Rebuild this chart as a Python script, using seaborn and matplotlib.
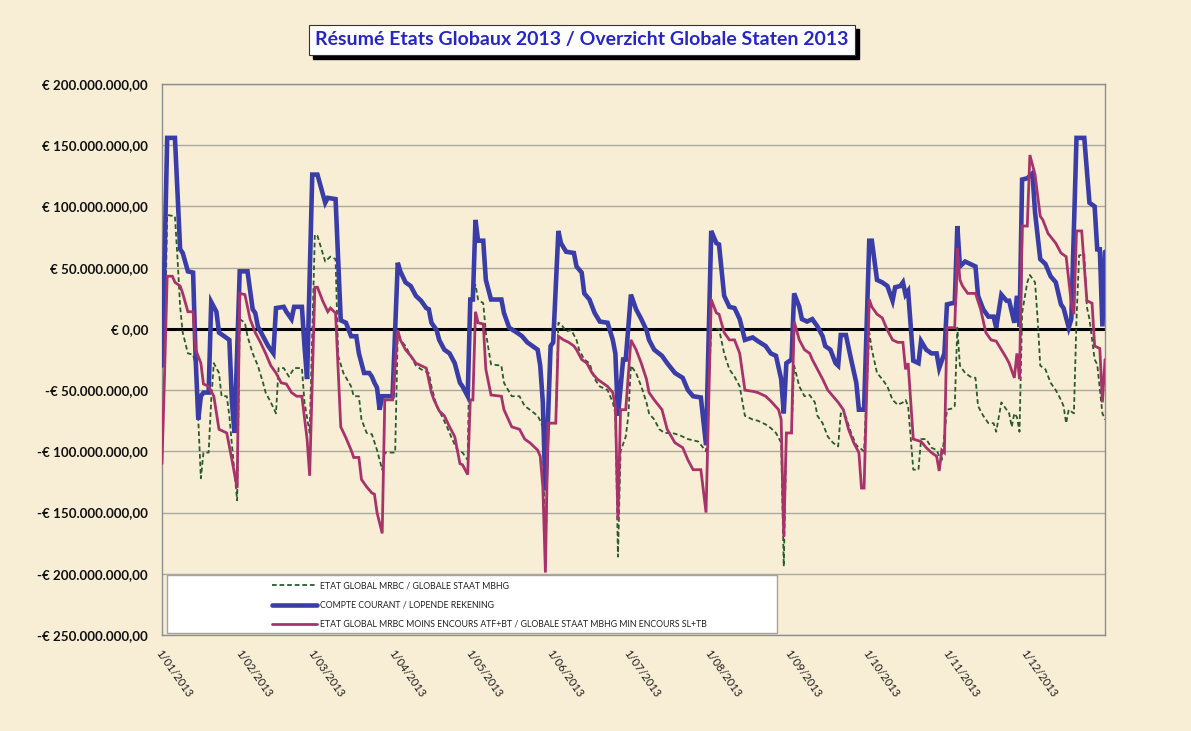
import matplotlib
matplotlib.use("Agg")
import matplotlib.pyplot as plt
from matplotlib.ticker import FuncFormatter
from matplotlib.patches import Rectangle
from matplotlib.transforms import IdentityTransform
import pandas as pd
import seaborn as sns

YEAR_START = "2013-01-01"

# (day of year, 0 = 1 January ; balance in millions of euro)
etat_global = [
    (0, -30), (1, -20), (2, 93), (5, 92), (6, 57), (7, 18), (8, -3), (10, -20), (12, -21), (13, -30),
    (14, -74), (15, -122), (16, -101), (18, -101), (19, -58), (20, -28), (22, -36), (23, -55), (25, -55), (26, -71),
    (27, -95), (29, -140), (30, 8), (32, 5), (33, -6), (35, -20), (37, -30), (39, -44), (40, -52), (42, -60),
    (44, -69), (45, -32), (47, -32), (49, -39), (51, -32), (54, -32), (55, -60), (57, -85), (59, 77), (60, 76),
    (62, 62), (63, 55), (65, 59), (67, 57), (68, -22), (70, -36), (73, -47), (74, -55), (76, -55), (77, -74),
    (79, -85), (81, -86), (83, -99), (85, -115), (86, -101), (90, -101), (91, -3), (92, -9), (94, -14), (96, -22),
    (98, -30), (100, -33), (103, -36), (104, -47), (106, -63), (108, -71), (110, -80), (112, -90), (114, -99), (116, -101),
    (118, -107), (119, 24), (121, 36), (122, 24), (124, 21), (125, -3), (127, -29), (131, -30), (132, -44), (135, -55),
    (138, -55), (140, -63), (142, -66), (145, -71), (146, -75), (147, -80), (148, -195), (149, -77), (152, -77), (153, 5),
    (154, 4), (156, -2), (158, -1), (160, -9), (161, -17), (163, -25), (165, -28), (167, -41), (169, -47), (172, -50),
    (174, -60), (175, -69), (176, -186), (177, -100), (179, -88), (180, -71), (181, -30), (183, -36), (185, -47), (187, -60),
    (188, -69), (190, -74), (192, -82), (194, -85), (197, -85), (200, -87), (203, -90), (207, -92), (210, -100), (212, 0),
    (215, 0), (217, -20), (219, -33), (221, -39), (223, -47), (225, -71), (228, -74), (230, -75), (233, -78), (235, -81),
    (237, -85), (239, -93), (240, -194), (241, -85), (243, -85), (244, -30), (246, -47), (248, -55), (250, -54), (252, -60),
    (253, -71), (255, -77), (257, -88), (259, -93), (261, -96), (262, -69), (264, -72), (266, -85), (268, -95), (271, -100),
    (273, -3), (274, -17), (276, -36), (278, -41), (280, -47), (282, -58), (284, -62), (286, -60), (287, -58), (288, -63),
    (290, -115), (292, -115), (293, -90), (295, -90), (297, -97), (299, -99), (300, -104), (301, -107), (303, -66), (305, -65),
    (306, -63), (307, 1), (308, -30), (310, -36), (312, -39), (314, -40), (315, -63), (317, -71), (319, -77), (321, -77),
    (322, -84), (324, -60), (326, -66), (327, -69), (328, -80), (329, -69), (330, -72), (331, -84), (332, 13), (334, 38),
    (335, 44), (337, 38), (338, 8), (339, -30), (341, -33), (343, -44), (345, -50), (347, -58), (348, -63), (349, -77),
    (350, -66), (352, -69), (353, 8), (354, 60), (356, 61), (357, 18), (358, 8), (360, -25), (361, -29), (363, -69),
    (364, -74),
]

compte_courant = [
    (0, -30), (1, 57), (2, 156), (5, 156), (7, 65), (8, 62), (10, 47), (12, 46), (13, -25), (14, -74),
    (15, -55), (16, -52), (18, -52), (19, 22), (21, 14), (22, -3), (24, -6), (26, -9), (27, -60), (28, -85),
    (30, 47), (33, 47), (35, 16), (36, 13), (37, 2), (39, -6), (41, -14), (43, -20), (44, 17), (47, 18),
    (48, 14), (50, 8), (51, 18), (54, 18), (55, -14), (56, -41), (58, 126), (60, 126), (63, 103), (64, 107),
    (67, 106), (69, 7), (71, 5), (73, -6), (75, -6), (76, -20), (78, -36), (80, -36), (81, -39), (82, -44),
    (83, -48), (84, -66), (85, -55), (89, -55), (91, 54), (92, 47), (94, 38), (96, 35), (98, 27), (100, 23),
    (102, 17), (103, 16), (104, 5), (106, -1), (107, -9), (109, -17), (111, -20), (113, -28), (115, -44), (116, -47),
    (118, -55), (119, 24), (120, 24), (121, 89), (122, 72), (124, 72), (125, 40), (127, 24), (131, 24), (132, 13),
    (134, 1), (137, -3), (139, -6), (141, -11), (143, -14), (145, -17), (146, -30), (147, -60), (148, -132), (150, -14),
    (151, -11), (153, 80), (154, 70), (156, 63), (159, 62), (160, 51), (162, 46), (163, 29), (165, 24), (167, 13),
    (169, 6), (172, 5), (174, -9), (175, -20), (176, -71), (178, -25), (179, -25), (181, 28), (183, 16), (185, 8),
    (187, -1), (188, -9), (190, -17), (193, -22), (195, -28), (198, -36), (201, -40), (203, -50), (205, -55), (208, -56),
    (210, -95), (212, 80), (214, 70), (215, 69), (217, 27), (219, 18), (221, 17), (223, 8), (225, -9), (228, -7),
    (230, -10), (233, -14), (235, -20), (237, -22), (239, -41), (240, -69), (241, -28), (243, -25), (244, 29), (246, 18),
    (247, 8), (249, 6), (251, 8), (253, 2), (255, -6), (256, -14), (258, -17), (260, -28), (261, -30), (262, -5),
    (264, -5), (266, -25), (268, -44), (269, -66), (271, -66), (273, 72), (274, 72), (276, 40), (278, 38), (280, 35),
    (282, 23), (283, 34), (285, 35), (286, 38), (287, 28), (288, 31), (290, -26), (292, -28), (293, -10), (295, -17),
    (297, -20), (299, -20), (300, -32), (302, -20), (303, 20), (305, 21), (306, 21), (307, 84), (308, 51), (310, 55),
    (312, 53), (314, 51), (315, 27), (317, 16), (319, 10), (321, 10), (322, 1), (324, 28), (326, 23), (327, 23),
    (329, 5), (330, 27), (331, 2), (332, 122), (334, 123), (336, 127), (337, 95), (339, 57), (341, 53), (343, 43),
    (345, 38), (347, 20), (348, 17), (350, 1), (351, 8), (352, 81), (353, 156), (356, 156), (358, 103), (360, 100),
    (361, 65), (362, 65), (363, 2), (364, 63),
]

etat_moins_encours = [
    (0, -110), (1, -36), (2, 43), (4, 43), (5, 38), (7, 35), (8, 29), (10, 14), (12, 14), (13, -17),
    (15, -28), (16, -45), (18, -47), (20, -55), (22, -82), (25, -85), (27, -107), (29, -130), (30, 29), (32, 28),
    (34, 8), (36, -3), (38, -11), (40, -20), (42, -30), (44, -36), (46, -44), (48, -45), (50, -52), (52, -55),
    (54, -55), (56, -90), (57, -120), (59, 34), (60, 34), (62, 23), (64, 14), (65, 17), (67, 13), (69, -80),
    (71, -89), (73, -99), (74, -105), (76, -105), (77, -123), (79, -129), (81, -134), (82, -135), (83, -150), (85, -167),
    (86, -58), (89, -58), (91, -1), (92, -9), (94, -17), (96, -22), (98, -28), (100, -30), (102, -32), (104, -52),
    (105, -58), (107, -67), (109, -71), (111, -80), (113, -88), (115, -110), (116, -111), (118, -119), (119, -58), (120, -58),
    (121, 14), (122, 5), (124, 4), (125, -33), (127, -54), (131, -55), (132, -66), (135, -80), (138, -82), (140, -90),
    (142, -93), (145, -99), (146, -104), (147, -129), (148, -199), (149, -77), (152, -77), (153, -6), (155, -9), (157, -11),
    (159, -14), (160, -17), (162, -25), (164, -28), (166, -36), (168, -41), (170, -44), (172, -47), (174, -52), (175, -63),
    (176, -156), (177, -66), (179, -66), (181, -9), (183, -17), (185, -28), (187, -41), (188, -52), (190, -58), (193, -66),
    (195, -82), (198, -93), (201, -97), (203, -107), (205, -115), (208, -115), (210, -150), (212, 24), (214, 13), (215, 12),
    (217, -3), (219, -9), (221, -9), (223, -20), (225, -50), (228, -51), (230, -52), (233, -55), (235, -59), (238, -66),
    (239, -74), (240, -170), (241, -85), (243, -85), (244, 6), (246, -9), (248, -17), (250, -20), (251, -25), (253, -33),
    (255, -41), (257, -50), (259, -55), (261, -60), (263, -66), (265, -82), (267, -93), (269, -101), (270, -130), (271, -130),
    (273, 24), (274, 18), (276, 12), (278, 9), (280, -1), (282, -9), (284, -11), (286, -11), (287, -33), (288, -28),
    (290, -90), (293, -92), (295, -97), (297, -101), (299, -104), (300, -116), (301, -99), (302, -101), (303, 1), (306, 1),
    (307, 66), (308, 40), (309, 35), (311, 29), (314, 29), (316, 16), (318, -3), (320, -9), (322, -10), (324, -17),
    (326, -24), (327, -28), (329, -40), (330, -20), (331, -41), (332, 84), (334, 84), (335, 142), (337, 126), (339, 92),
    (340, 89), (342, 78), (345, 70), (347, 62), (349, 59), (351, 21), (352, 12), (353, 80), (355, 80), (357, 23),
    (359, 21), (360, -14), (362, -16), (363, -60), (364, -25),
]

series_labels = [
    "ETAT GLOBAL MRBC / GLOBALE STAAT MBHG",
    "COMPTE COURANT / LOPENDE REKENING",
    "ETAT GLOBAL MRBC MOINS ENCOURS ATF+BT / GLOBALE STAAT MBHG MIN ENCOURS SL+TB",
]
month_starts = ["2013-01-01", "2013-02-01", "2013-03-01", "2013-04-01", "2013-05-01", "2013-06-01",
                "2013-07-01", "2013-08-01", "2013-09-01", "2013-10-01", "2013-11-01", "2013-12-01"]
month_labels = ["1/01/2013", "1/02/2013", "1/03/2013", "1/04/2013", "1/05/2013", "1/06/2013",
                "1/07/2013", "1/08/2013", "1/09/2013", "1/10/2013", "1/11/2013", "1/12/2013"]
y_ticks_millions = [-250, -200, -150, -100, -50, 0, 50, 100, 150, 200]
title_text = "Résumé Etats Globaux 2013 / Overzicht Globale Staten 2013"

PAPER = "#F8EED6"
GRID = "#ABA89C"
FRAME = "#8E8E8E"
COLORS = ["#2B5A2B", "#3A3DA8", "#A8336B"]


def to_frame(pairs):
    days, vals = zip(*pairs)
    dates = pd.Timestamp(YEAR_START) + pd.to_timedelta(list(days), unit="D")
    return pd.DataFrame({"date": dates, "euro": [v * 1e6 for v in vals]})


def euro_label(v, pos=None):
    txt = f"{abs(v):,.2f}".replace(",", "_").replace(".", ",").replace("_", ".")
    return ("-€ " if v < 0 else "€ ") + txt


sns.set_style("white")
plt.rcParams["font.family"] = ["Lato", "DejaVu Sans"]

fig = plt.figure(figsize=(11.91, 7.31), dpi=100, facecolor=PAPER)
W, H = 1191, 731
ax = fig.add_axes([162 / W, 1 - 635 / H, (1105 - 162) / W, (635 - 84) / H])
ax.set_facecolor(PAPER)

frames = [to_frame(etat_global), to_frame(compte_courant), to_frame(etat_moins_encours)]
styles = [dict(linewidth=1.3, linestyle=(0, (2.6, 1.6)), zorder=3),
          dict(linewidth=3.3, linestyle="-", zorder=4),
          dict(linewidth=2.0, linestyle="-", zorder=5)]
for df, color, label, st in zip(frames, COLORS, series_labels, styles):
    sns.lineplot(data=df, x="date", y="euro", ax=ax, color=color, label=label,
                 sort=False, solid_joinstyle="miter", **st)

ax.axhline(0, color="black", linewidth=2.2, zorder=2)

ax.set_ylim(-250e6, 200e6)
ax.set_xlim(pd.Timestamp("2013-01-01"), pd.Timestamp("2013-12-31"))
ax.set_yticks([v * 1e6 for v in y_ticks_millions])
ax.yaxis.set_major_formatter(FuncFormatter(euro_label))
ax.grid(axis="y", color=GRID, linewidth=1.0, zorder=1)
ax.grid(axis="x", visible=False)
ax.set_axisbelow(True)

ax.set_xticks(pd.to_datetime(month_starts))
ax.set_xticklabels(month_labels, rotation=-55, ha="left", va="top",
                   rotation_mode="anchor", fontsize=8, color="#1E1E1E")
ax.tick_params(axis="x", length=0, pad=9)
ax.tick_params(axis="y", length=4, width=1, color=FRAME, pad=6,
               labelsize=9.6, labelcolor="#111111")
for lbl in ax.get_yticklabels():
    lbl.set_fontweight("bold")
ax.set_xlabel("")
ax.set_ylabel("")
for sp in ax.spines.values():
    sp.set_color(FRAME)
    sp.set_linewidth(1.0)

# legend panel
panel = Rectangle((0.005, 0.004), 0.647, 0.105, transform=ax.transAxes,
                  facecolor="white", edgecolor="#A3A3A3", linewidth=1.0, zorder=6)
ax.add_patch(panel)
handles = ax.get_lines()[:3]
leg = ax.legend(handles, series_labels, loc="upper left", bbox_to_anchor=(0.1166, 0.097),
                frameon=False, fontsize=6.3, handlelength=5.1, handletextpad=0.35,
                labelspacing=1.15, borderpad=0, borderaxespad=0)
leg.set_zorder(7)
for t in leg.get_texts():
    t.set_color("#222222")

# title box, with a solid drop shadow behind it
title = fig.text(582 / W, 1 - 40 / H, title_text, ha="center", va="center", fontsize=14,
                 fontweight="bold", color="#2626C4", zorder=5,
                 bbox=dict(boxstyle="square,pad=0.32", facecolor="white",
                           edgecolor="#333333", linewidth=0.8))
fig.canvas.draw()
box = title.get_bbox_patch().get_window_extent(fig.canvas.get_renderer())
fig.add_artist(Rectangle((box.x0 + 4, box.y0 - 4), box.width, box.height,
                         transform=IdentityTransform(), facecolor="black",
                         edgecolor="black", zorder=4))

fig.savefig("out.png", dpi=100, facecolor=PAPER)
